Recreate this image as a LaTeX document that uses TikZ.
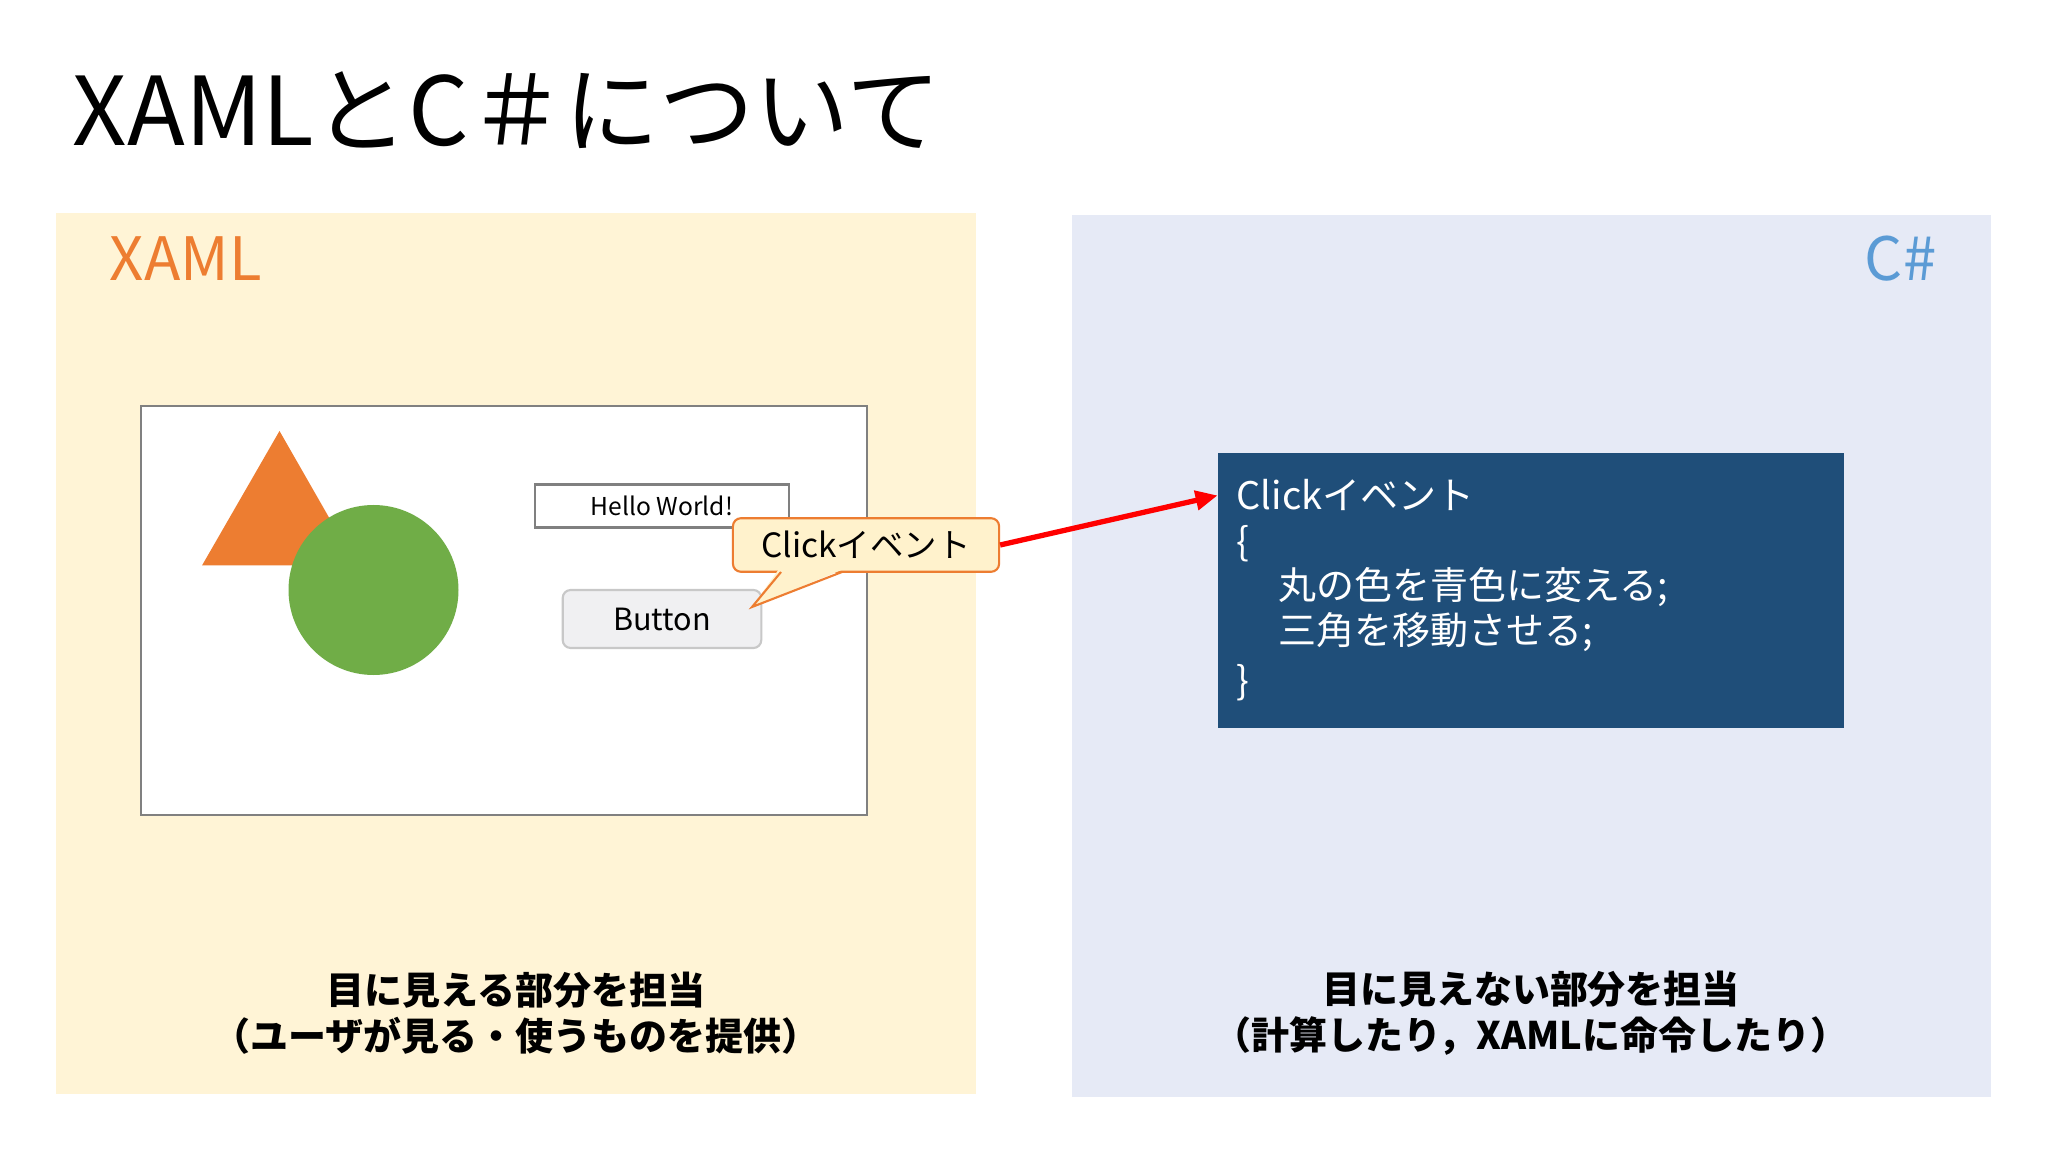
\documentclass[tikz,border=0pt]{standalone}
\usepackage{fontspec}
\setmainfont{Noto Sans CJK JP}
\usetikzlibrary{arrows.meta}
\definecolor{creampanel}{HTML}{FFF4D6}
\definecolor{bluepanel}{HTML}{E6EAF6}
\definecolor{codeblue}{HTML}{1F4E79}
\definecolor{orangeshape}{HTML}{ED7D31}
\definecolor{greenshape}{HTML}{70AD47}
\definecolor{csblue}{HTML}{5B9BD5}
\definecolor{calloutfill}{HTML}{FFF2CC}
\definecolor{calloutline}{HTML}{ED7D31}
\definecolor{winborder}{HTML}{808080}
\definecolor{btnfill}{HTML}{F0F0F2}
\definecolor{btnborder}{HTML}{C8C8C8}
\definecolor{arrowred}{HTML}{FF0000}
\tikzset{
  codetext/.style={anchor=base west, inner sep=0, text=white, font=\fontsize{10.8}{13}\selectfont},
  bottomtext/.style={align=center, inner sep=0, font=\fontsize{10.8}{13.1}\selectfont\bfseries},
  labeltext/.style={inner sep=0, font=\fontsize{17}{20}\selectfont},
}
\begin{document}
\begin{tikzpicture}[x=0.01cm,y=-0.01cm]
\useasboundingbox (0,0) rectangle (2048,1152);
\fill[white] (0,0) rectangle (2048,1152);
% title
\node[anchor=base west, inner sep=0, font=\fontsize{27}{31}\selectfont] (title) at (72,146) {XAMLとC＃について};
% panels
\fill[creampanel] (56,213) rectangle (976,1094);
\fill[bluepanel] (1072,215) rectangle (1991,1097);
\node[labeltext, anchor=base west, text=orangeshape] (xamllabel) at (109,281) {XAML};
\node[labeltext, anchor=base east, text=csblue] (cslabel) at (1937,281) {C\#};
% window
\draw[winborder, fill=white, line width=0.6pt] (141,406) rectangle (867,815);
\fill[orangeshape] (279.5,431) -- (356.5,565.5) -- (202,565.5) -- cycle;
\fill[greenshape] (373.5,590) circle[radius=85];
\node[draw=winborder, fill=white, line width=0.6pt, minimum width=2.535cm, minimum height=0.43cm, inner sep=0, font=\fontsize{7}{8}\selectfont] (hello) at (662,506) {Hello World!};
\node[draw=btnborder, fill=btnfill, rounded corners=0.08cm, line width=0.6pt, minimum width=1.985cm, minimum height=0.58cm, inner sep=0, font=\fontsize{8.7}{10}\selectfont] (btn) at (662,619) {Button};
% callout
\node[draw=calloutline, fill=calloutfill, rounded corners=0.08cm, line width=0.6pt, minimum width=2.66cm, minimum height=0.535cm, inner sep=0, font=\fontsize{9.5}{11}\selectfont] (click) at (866,545) {Clickイベント};
\fill[calloutfill] (779,569) -- (844,569) -- (752,607) -- cycle;
\draw[calloutline, line width=0.6pt, line join=miter] (781,572) -- (752,607) -- (842,572);
% code box
\node[fill=codeblue, minimum width=6.255cm, minimum height=2.745cm, inner sep=0] (code) at (1531.25,590.25) {};
\node[codetext] (l1) at (1236,510) {Clickイベント};
\node[codetext] (l2) at (1236,555) {\{};
\node[codetext] (l3) at (1278,600) {丸の色を青色に変える;};
\node[codetext] (l4) at (1278,645) {三角を移動させる;};
\node[codetext] (l5) at (1236,695) {\}};
% arrow
\draw[arrowred, line width=1.5pt, -{Triangle[length=0.22cm,width=0.19cm]}] (click.east) -- (code.west |- l1);
% bottom texts
\node[bottomtext] (lefttext) at (516,1013) {目に見える部分を担当\\（ユーザが見る・使うものを提供）};
\node[bottomtext] (righttext) at (1531,1013) {目に見えない部分を担当\\（計算したり，XAMLに命令したり）};
\end{tikzpicture}
\end{document}
